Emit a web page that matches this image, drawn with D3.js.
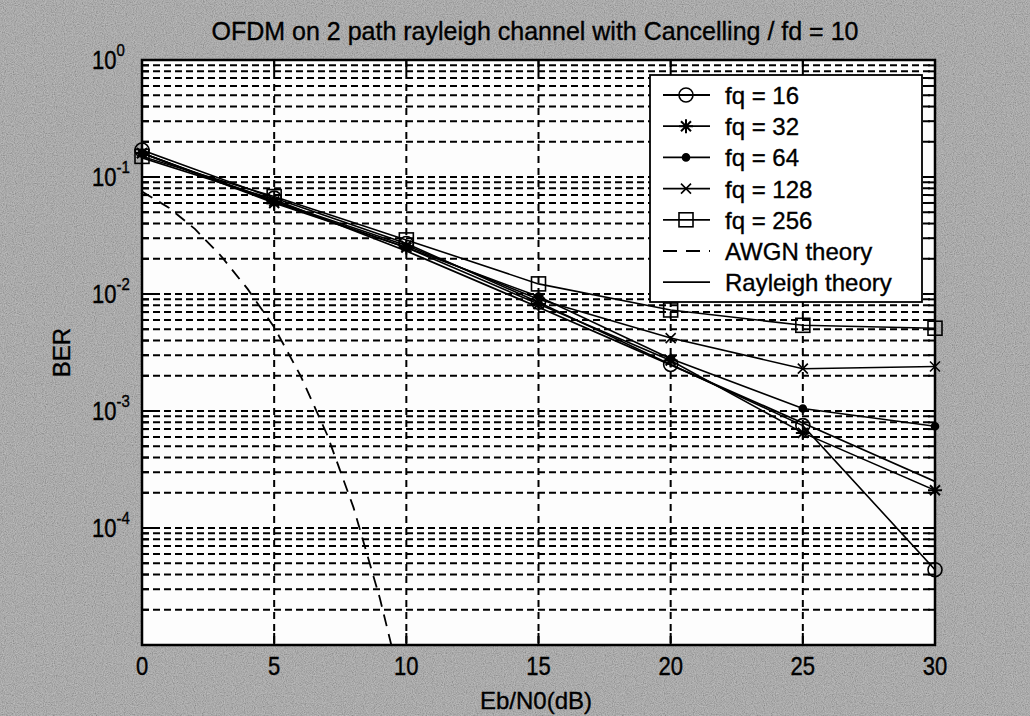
<!DOCTYPE html>
<html><head><meta charset="utf-8">
<script src="https://cdn.jsdelivr.net/npm/d3@7"></script>
<style>body{margin:0;background:#a2a2a2;} text{font-family:"Liberation Sans",Arial,sans-serif;fill:#000;stroke:#000;stroke-width:0.35px;}</style>
</head><body>
<svg id="chart" width="1030" height="716"></svg>
<script>
// ---- data ----
const ebn0 = [0, 5, 10, 15, 20, 25, 30];
const fq16  = [0.17, 0.066, 0.027, 0.0085, 0.0025, 0.00075, 0.000044];
const fq32  = [0.16, 0.060, 0.025, 0.0082, 0.0027, 0.00065, 0.00021];
const fq64  = [0.16, 0.061, 0.025, 0.0095, 0.0028, 0.00105, 0.00074];
const fq128 = [0.16, 0.062, 0.026, 0.0090, 0.0042, 0.0023, 0.0024];
const fq256 = [0.15, 0.068, 0.029, 0.0122, 0.0073, 0.0054, 0.0051];
const rayleighX = [0, 5, 10, 15, 20, 25, 30];
const rayleigh  = [0.146, 0.064, 0.0233, 0.0077, 0.00248, 0.00079, 0.00025];
const awgnX = [0, 1, 2, 3, 4, 5, 6, 7, 8, 9, 10];
const awgn  = [0.075, 0.055, 0.036, 0.021, 0.011, 0.0052, 0.002, 0.00063, 0.00015, 0.000025, 0.000003];
const xTicks = [0, 5, 10, 15, 20, 25, 30];
const yDecades = [0, -1, -2, -3, -4];
const legendLabels = ["fq = 16", "fq = 32", "fq = 64", "fq = 128", "fq = 256", "AWGN theory", "Rayleigh theory"];
const titleText = "OFDM on 2 path rayleigh channel with Cancelling / fd = 10";
const xLabel = "Eb/N0(dB)";
const yLabel = "BER";

const series = [
  {y: fq16, marker: "circle"},
  {y: fq32, marker: "star"},
  {y: fq64, marker: "dot"},
  {y: fq128, marker: "x"},
  {y: fq256, marker: "square"}
];

// ---- layout ----
const L = 142, R = 935, T = 60, B = 645;
const svg = d3.select("#chart");
const x = d3.scaleLinear().domain([0, 30]).range([L, R]);
const y = d3.scaleLog().domain([1e-5, 1]).range([B, T]);

// background with scan-like noise
const defs = svg.append("defs");
const f = defs.append("filter").attr("id", "noise").attr("x", 0).attr("y", 0).attr("width", "100%").attr("height", "100%");
f.append("feTurbulence").attr("type", "fractalNoise").attr("baseFrequency", 0.9).attr("numOctaves", 2).attr("seed", 4);
f.append("feColorMatrix").attr("type", "matrix").attr("values", "1 0 0 0 0  1 0 0 0 0  1 0 0 0 0  0 0 0 0 1");
defs.append("clipPath").attr("id", "clip").append("rect").attr("x", L).attr("y", T).attr("width", R - L).attr("height", B - T);

svg.append("rect").attr("width", 1030).attr("height", 716).attr("fill", "#a0a0a0");
svg.append("rect").attr("width", 1030).attr("height", 716).attr("filter", "url(#noise)").attr("opacity", 0.38);

// plot area
svg.append("rect").attr("x", L).attr("y", T).attr("width", R - L).attr("height", B - T).attr("fill", "#fdfdfd");

// grid
const grid = svg.append("g").attr("stroke", "#000").attr("stroke-width", 2).attr("stroke-dasharray", "7,4");
const minorVals = [];
for (let e = -5; e < 0; e++) for (let m = 1; m <= 9; m++) minorVals.push(m * Math.pow(10, e));
minorVals.push(1);
grid.selectAll("line.h").data(minorVals.filter(v => v > 1e-5 && v < 1)).join("line")
  .attr("x1", L).attr("x2", R).attr("y1", d => y(d)).attr("y2", d => y(d));
grid.selectAll("line.v").data(xTicks.filter(v => v > 0 && v < 30)).join("line")
  .attr("class", "v").attr("y1", T).attr("y2", B).attr("x1", d => x(d)).attr("x2", d => x(d)).attr("stroke-dasharray", "7,5");

// ticks (inside)
const ticks = svg.append("g").attr("stroke", "#000").attr("stroke-width", 2);
xTicks.forEach(v => {
  ticks.append("line").attr("x1", x(v)).attr("x2", x(v)).attr("y1", B).attr("y2", B - 12);
  ticks.append("line").attr("x1", x(v)).attr("x2", x(v)).attr("y1", T).attr("y2", T + 12);
});
minorVals.filter(v => v > 1e-5 && v < 1).forEach(v => {
  const major = Math.abs(Math.log10(v) - Math.round(Math.log10(v))) < 1e-9;
  const len = major ? 12 : 7;
  ticks.append("line").attr("x1", L).attr("x2", L + len).attr("y1", y(v)).attr("y2", y(v));
  ticks.append("line").attr("x1", R).attr("x2", R - len).attr("y1", y(v)).attr("y2", y(v));
});

// axes box
svg.append("rect").attr("x", L).attr("y", T).attr("width", R - L).attr("height", B - T)
  .attr("fill", "none").attr("stroke", "#000").attr("stroke-width", 2.5);

// tick labels
const xt = svg.append("g");
xTicks.forEach(v => {
  xt.append("text").attr("transform", `translate(${x(v)},675) scale(1,1.15)`)
    .attr("text-anchor", "middle").attr("font-size", 22).text(v);
});
yDecades.forEach(e => {
  const t = svg.append("text").attr("transform", `translate(92,${y(Math.pow(10, e)) + 9}) scale(1,1.15)`)
    .attr("font-size", 22);
  t.append("tspan").text("10");
  t.append("tspan").attr("dy", -11).attr("font-size", 15).text(e);
});

// title and axis labels
svg.append("text").attr("x", 535).attr("y", 40).attr("text-anchor", "middle").attr("font-size", 25).text(titleText);
svg.append("text").attr("x", 536).attr("y", 709).attr("text-anchor", "middle").attr("font-size", 24).text(xLabel);
svg.append("text").attr("transform", `translate(70,${(T + B) / 2}) rotate(-90)`).attr("text-anchor", "middle").attr("font-size", 24).text(yLabel);

// marker drawing
function drawMarker(g, type, cx, cy) {
  const s = g.append("g").attr("transform", `translate(${cx},${cy})`).attr("stroke", "#000").attr("stroke-width", 1.6).attr("fill", "none");
  if (type === "circle") s.append("circle").attr("r", 7);
  else if (type === "square") s.append("rect").attr("x", -7).attr("y", -7).attr("width", 14).attr("height", 14);
  else if (type === "dot") s.append("circle").attr("r", 3.5).attr("fill", "#000");
  else if (type === "x") s.append("path").attr("d", "M-5,-5L5,5M-5,5L5,-5");
  else if (type === "star") s.append("path").attr("d", "M-7,0L7,0M0,-7L0,7M-5,-5L5,5M-5,5L5,-5").attr("stroke-width", 2);
}

const plot = svg.append("g").attr("clip-path", "url(#clip)");
const line = d3.line().x(d => x(d[0])).y(d => y(d[1]));

// theory curves
plot.append("path").datum(awgnX.map((v, i) => [v, awgn[i]])).attr("d", line)
  .attr("fill", "none").attr("stroke", "#000").attr("stroke-width", 1.8).attr("stroke-dasharray", "12,8");
plot.append("path").datum(rayleighX.map((v, i) => [v, rayleigh[i]])).attr("d", line)
  .attr("fill", "none").attr("stroke", "#000").attr("stroke-width", 1.8);

// simulated series
series.forEach(s => {
  plot.append("path").datum(ebn0.map((v, i) => [v, s.y[i]])).attr("d", line)
    .attr("fill", "none").attr("stroke", "#000").attr("stroke-width", 1.6);
});
const mk = svg.append("g");
series.forEach(s => {
  ebn0.forEach((v, i) => drawMarker(mk, s.marker, x(v), y(s.y[i])));
});

// legend
const lg = svg.append("g");
lg.append("rect").attr("x", 650).attr("y", 75).attr("width", 272).attr("height", 227)
  .attr("fill", "#fff").attr("stroke", "#000").attr("stroke-width", 1.8);
legendLabels.forEach((lab, i) => {
  const cy = 95 + i * 31.2;
  const ln = lg.append("line").attr("x1", 663).attr("x2", 710).attr("y1", cy).attr("y2", cy)
    .attr("stroke", "#000").attr("stroke-width", 1.8);
  if (i === 5) ln.attr("stroke-dasharray", "14,9");
  if (i < 5) drawMarker(lg, series[i].marker, 686, cy);
  lg.append("text").attr("x", 725).attr("y", cy + 9).attr("font-size", 24).text(lab);
});
</script>
</body></html>
